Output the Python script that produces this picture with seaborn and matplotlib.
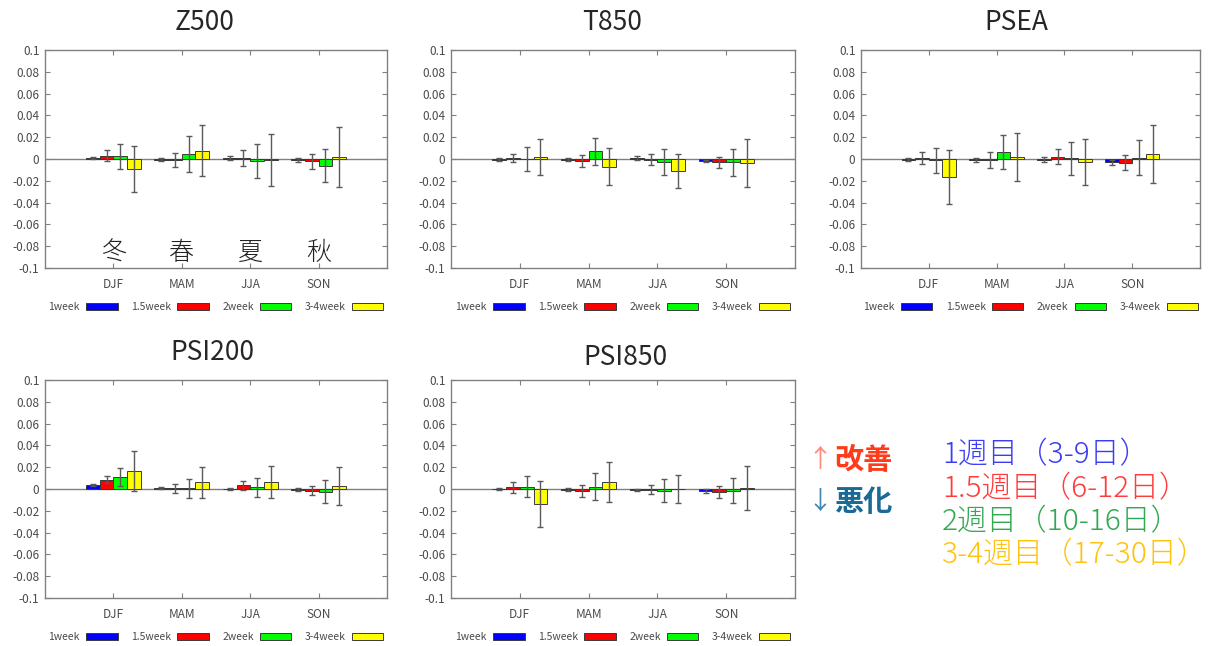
import numpy as np
import pandas as pd
import matplotlib
matplotlib.use("Agg")
import matplotlib.pyplot as plt
from matplotlib.patches import Patch
from matplotlib.container import BarContainer
import seaborn as sns

# ---------------- data ----------------
seasons = ["DJF", "MAM", "JJA", "SON"]
leads = ["1week", "1.5week", "2week", "3-4week"]
lead_colors = ["#0000ff", "#ff0000", "#00ff00", "#ffff00"]
season_kanji = ["冬", "春", "夏", "秋"]
ytick_vals = [0.1, 0.08, 0.06, 0.04, 0.02, 0.0, -0.02, -0.04, -0.06, -0.08, -0.1]
ytick_labels = ["0.1", "0.08", "0.06", "0.04", "0.02", "0", "-0.02", "-0.04", "-0.06", "-0.08", "-0.1"]

# values[lead][season]
z500_val = [[0.001, -0.0005, 0.001, -0.001],
            [0.003, -0.001, 0.001, -0.002],
            [0.0025, 0.005, -0.002, -0.006],
            [-0.0095, 0.0075, -0.001, 0.0015]]
z500_err = [[0.001, 0.0015, 0.002, 0.0015],
            [0.005, 0.0065, 0.007, 0.007],
            [0.0115, 0.0165, 0.0155, 0.0155],
            [0.021, 0.0235, 0.0235, 0.0275]]

t850_val = [[-0.0005, -0.0005, 0.0005, -0.0015],
            [0.001, -0.0015, -0.0005, -0.003],
            [0.0, 0.007, -0.003, -0.003],
            [0.002, -0.007, -0.011, -0.004]]
t850_err = [[0.001, 0.0015, 0.0018, 0.001],
            [0.0035, 0.0055, 0.005, 0.005],
            [0.011, 0.0125, 0.012, 0.0125],
            [0.0165, 0.017, 0.016, 0.022]]

psea_val = [[-0.0005, -0.001, -0.0005, -0.003],
            [0.001, -0.001, 0.002, -0.0035],
            [-0.001, 0.0065, 0.0005, 0.001],
            [-0.0165, 0.002, -0.003, 0.0045]]
psea_err = [[0.0015, 0.002, 0.0025, 0.0025],
            [0.0055, 0.007, 0.007, 0.007],
            [0.0115, 0.0155, 0.015, 0.016],
            [0.0245, 0.022, 0.021, 0.0265]]

psi200_val = [[0.004, 0.001, 0.0003, -0.0005],
              [0.0085, 0.0005, 0.0035, -0.0015],
              [0.011, 0.0005, 0.0015, -0.0025],
              [0.0165, 0.006, 0.0065, 0.0025]]
psi200_err = [[0.001, 0.001, 0.001, 0.001],
              [0.003, 0.004, 0.004, 0.004],
              [0.0085, 0.0085, 0.0085, 0.0105],
              [0.018, 0.0145, 0.0145, 0.0175]]

psi850_val = [[-0.0002, -0.0005, -0.001, -0.002],
              [0.0015, -0.0015, -0.0005, -0.0025],
              [0.002, 0.002, -0.0015, -0.0015],
              [-0.0135, 0.0065, 0.0, 0.0008]]
psi850_err = [[0.001, 0.001, 0.001, 0.002],
              [0.005, 0.0055, 0.0045, 0.0055],
              [0.0095, 0.0125, 0.0105, 0.0115],
              [0.021, 0.018, 0.013, 0.0205]]

panel_titles = ["Z500", "T850", "PSEA", "PSI200", "PSI850"]
panel_vals = [z500_val, t850_val, psea_val, psi200_val, psi850_val]
panel_errs = [z500_err, t850_err, psea_err, psi200_err, psi850_err]

note_up = ["↑", "改善"]
note_down = ["↓", "悪化"]
jp_legend = ["1週目（3-9日）", "1.5週目（6-12日）", "2週目（10-16日）", "3-4週目（17-30日）"]
jp_legend_colors = ["#3c3cf5", "#ff3c3c", "#33a852", "#ffc20e"]

# ---------------- style ----------------
sns.set_style("ticks")
plt.rcParams["font.family"] = ["Noto Sans CJK JP", "DejaVu Sans"]

W, H = 1210, 646
fig = plt.figure(figsize=(W / 100, H / 100), dpi=100)
fig.patch.set_facecolor("white")

# axes rectangles in pixels: (left, top, right, bottom)
rects = [(45, 50, 387, 268), (451, 50, 795, 268), (861, 50, 1200, 268),
         (45, 380, 387, 598), (451, 380, 795, 598)]
title_pos = [(205, 22), (612, 22), (1016, 22), (212, 353), (625, 357)]

grey = "#808080"
txt_grey = "#4a4a4a"

for i, (title, vals, errs) in enumerate(zip(panel_titles, panel_vals, panel_errs)):
    l, t, r, b = rects[i]
    ax = fig.add_axes([l / W, 1 - b / H, (r - l) / W, (b - t) / H])
    rows = []
    for li, lead in enumerate(leads):
        for si, s in enumerate(seasons):
            rows.append({"season": s, "lead": lead, "value": vals[li][si], "err": errs[li][si]})
    df = pd.DataFrame(rows)
    sns.barplot(data=df, x="season", y="value", hue="lead", order=seasons, hue_order=leads,
                palette=lead_colors, errorbar=None, width=0.8, edgecolor="#3a3a3a",
                linewidth=0.7, legend=False, ax=ax, zorder=3, saturation=1)
    ax.axhline(0, color=grey, lw=1.0, zorder=2)
    bar_conts = [c for c in ax.containers if isinstance(c, BarContainer)]
    for li, cont in enumerate(bar_conts):
        xs = [p.get_x() + p.get_width() / 2 for p in cont.patches]
        sub = df[df["lead"] == leads[li]].set_index("season").loc[seasons]
        ax.errorbar(xs, sub["value"].values, yerr=sub["err"].values, fmt="none",
                    ecolor="#5a5a5a", elinewidth=1.0, capsize=2.2, capthick=1.0, zorder=4)
    ax.set_xlim(-1, 4)
    ax.set_ylim(-0.1, 0.1)
    ax.set_yticks(ytick_vals)
    ax.set_yticklabels(ytick_labels)
    ax.set_xlabel("")
    ax.set_ylabel("")
    ax.tick_params(direction="in", top=True, right=True, length=3.5, width=0.8,
                   color=grey, labelsize=8.5, labelcolor=txt_grey, pad=4)
    ax.tick_params(axis="x", pad=7)
    for sp in ax.spines.values():
        sp.set_visible(True)
        sp.set_color(grey)
        sp.set_linewidth(1.0)
    handles = [Patch(facecolor=c, edgecolor="#3a3a3a", linewidth=0.7, label=lab)
               for c, lab in zip(lead_colors, leads)]
    ax.legend(handles=handles, loc="center", bbox_to_anchor=(0.5, -0.18), ncol=4,
              frameon=False, markerfirst=False, fontsize=7.5, labelcolor=txt_grey,
              handlelength=3.0, handleheight=0.6, handletextpad=0.6, columnspacing=1.3)
    fig.text(title_pos[i][0] / W, 1 - title_pos[i][1] / H, title, ha="center", va="center",
             fontsize=19, color="#262626")
    if i == 0:
        for si, k in enumerate(season_kanji):
            ax.text(si, -0.086, k, ha="center", va="center", fontsize=18,
                    color="#222222", fontweight="light", zorder=5)

# right-hand annotations
fig.text(807 / W, 1 - 460 / H, note_up[0], ha="left", va="center", fontsize=18, color="#ff8a7a")
fig.text(834 / W, 1 - 460 / H, note_up[1], ha="left", va="center", fontsize=21,
         color="#ff3b1a", fontweight="bold")
fig.text(807 / W, 1 - 502 / H, note_down[0], ha="left", va="center", fontsize=18, color="#3f86b5")
fig.text(834 / W, 1 - 502 / H, note_down[1], ha="left", va="center", fontsize=21,
         color="#1a6a96", fontweight="bold")
ys = [455, 489, 522, 555]
for txt, c, y in zip(jp_legend, jp_legend_colors, ys):
    fig.text(942 / W, 1 - y / H, txt, ha="left", va="center", fontsize=21.5, color=c,
             fontweight="light")

fig.savefig("out.png", dpi=100, facecolor="white")
